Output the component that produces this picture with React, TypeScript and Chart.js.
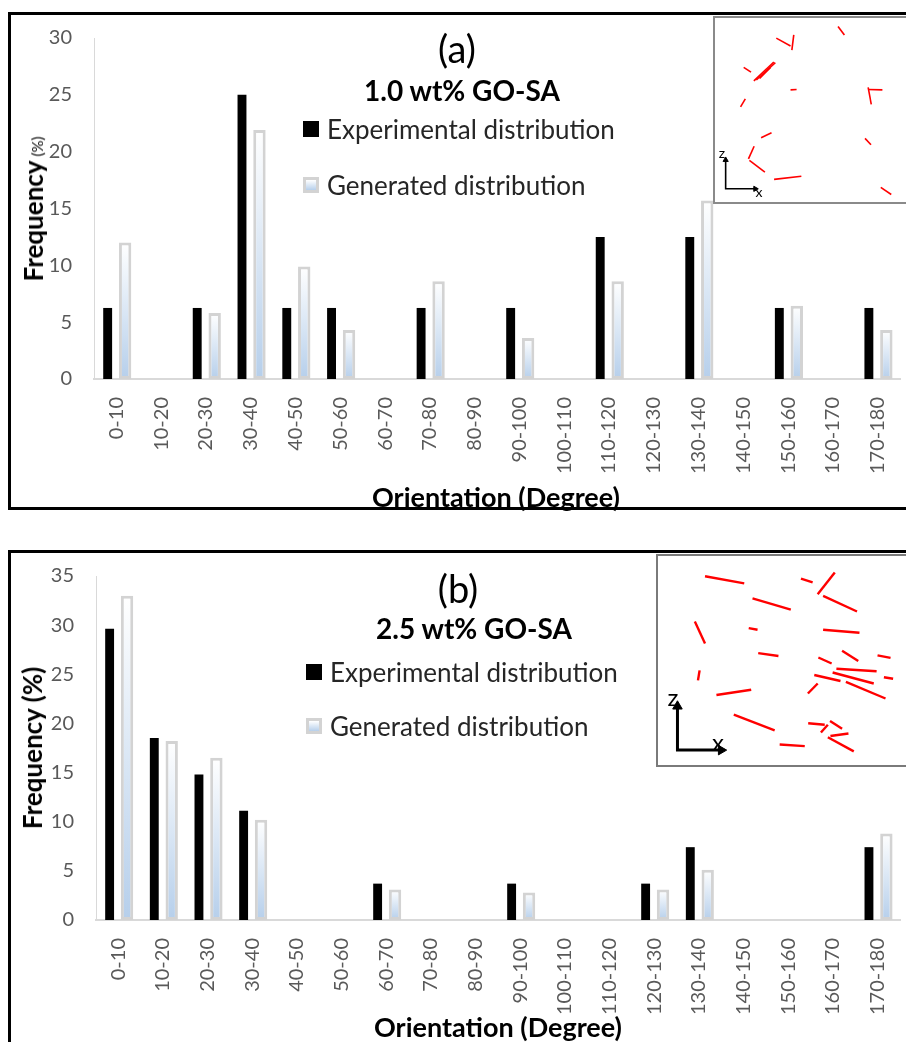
import React, { useEffect, useRef } from 'react';
import { Chart, registerables } from 'chart.js';

Chart.register(...registerables);

const FONT = 'Lato, "Open Sans", sans-serif';

// ---------- data ----------
const categories = [
  '0-10', '10-20', '20-30', '30-40', '40-50', '50-60', '60-70', '70-80', '80-90',
  '90-100', '100-110', '110-120', '120-130', '130-140', '140-150', '150-160', '160-170', '170-180',
];

// panel (a) 1.0 wt% GO-SA
const experimentalA = [6.25, 0, 6.25, 25, 6.25, 6.25, 0, 6.25, 0, 6.25, 0, 12.5, 0, 12.5, 0, 6.25, 0, 6.25];
const generatedA = [12.0, 0, 5.8, 21.9, 9.9, 4.3, 0, 8.6, 0, 3.6, 0, 8.6, 0, 15.7, 0, 6.45, 0, 4.3];

// panel (b) 2.5 wt% GO-SA
const experimentalB = [29.63, 18.52, 14.81, 11.11, 0, 0, 3.7, 0, 0, 3.7, 0, 0, 3.7, 7.41, 0, 0, 0, 7.41];
const generatedB = [33.0, 18.2, 16.5, 10.2, 0, 0, 3.1, 0, 0, 2.8, 0, 0, 3.1, 5.1, 0, 0, 0, 8.8];

const yMaxA = 30;
const yMaxB = 35;
const yStep = 5;

const seriesNames = ['Experimental distribution', 'Generated distribution'];

// inset maps: platelet segments [x1, z1, x2, z2] in inset units
const insetSegmentsA = [
  [125.3, 181.3, 132, 172.3],
  [60.3, 169, 75.3, 160.7],
  [78.7, 172.3, 76.7, 156.3],
  [26, 138, 33.7, 133],
  [36.7, 123.7, 57.7, 143.7],
  [39.3, 124.7, 59.3, 143],
  [42.7, 126.3, 54.3, 138],
  [75.3, 114.3, 81.7, 114.7],
  [22.7, 96.3, 27.7, 104.7],
  [157, 117, 160.3, 99],
  [157, 114.7, 172, 114.3],
  [44.3, 63.7, 55.3, 69],
  [153.7, 63, 160, 56.3],
  [37, 54.7, 31, 41.3],
  [32, 39.7, 48.3, 27.3],
  [58, 19.7, 86.7, 23],
  [170.3, 11.3, 181.3, 3.7],
];
const insetSegmentsB = [
  [43.7, 195.3, 85, 187.7],
  [144.7, 192.7, 157, 188.7],
  [180.3, 199.3, 162.3, 176],
  [93.7, 171.7, 134, 159.7],
  [168, 174.3, 203.7, 157.7],
  [33, 147, 43.7, 123.7],
  [89.7, 140, 99, 138.3],
  [168, 138.3, 206.3, 135],
  [99.7, 113.3, 121, 110.3],
  [188, 116, 205, 105],
  [225.3, 111, 239, 108.3],
  [163, 108.7, 177, 102.3],
  [182, 96.7, 224.3, 94],
  [178, 92.7, 221.3, 81],
  [158.7, 90, 186.3, 83.7],
  [232, 87.7, 241.7, 86],
  [192, 82.7, 233.7, 65],
  [162.3, 81, 152, 70.3],
  [38, 95, 36.3, 84.3],
  [55.7, 68.7, 92.3, 74.3],
  [74, 47.7, 117, 31],
  [152.3, 38.7, 169.7, 37],
  [175.3, 41, 188, 32.7],
  [173, 37, 165.7, 28.7],
  [175.7, 25, 194.7, 27.7],
  [173, 23.7, 200.3, 8.7],
  [122.3, 16, 148.7, 14.3],
];
// axis triad: origin, z tip, x tip
const triadA = [[7, 9.7], [7, 42], [40, 9.7]];
const triadB = [[14.7, 10], [14.7, 60], [64, 10]];

// ---------- components ----------
function FreqChart(props: {
  left: number; top: number; width: number; height: number;
  padTop: number; padRight: number; yWidth: number; xHeight: number;
  exp: number[]; gen: number[]; yMax: number;
}) {
  const ref = useRef<HTMLCanvasElement>(null);
  useEffect(() => {
    const canvas = ref.current!;
    const genFill = (c: any) => {
      const chart = c.chart;
      const area = chart.chartArea;
      if (!area || c.type !== 'data') return '#c5d9f1';
      const v = (c.parsed && c.parsed.y) ?? c.raw ?? 0;
      const ys = chart.scales.y;
      if (!ys) return '#c5d9f1';
      const t = ys.getPixelForValue(v);
      const b = ys.getPixelForValue(0);
      if (!(b > t + 1)) return '#c5d9f1';
      const g = chart.ctx.createLinearGradient(0, t, 0, b);
      g.addColorStop(0, '#ffffff');
      g.addColorStop(1, '#b6cfeb');
      return g;
    };
    const noPad = (s: any) => { s.paddingLeft = 0; s.paddingRight = 0; s.paddingTop = 0; s.paddingBottom = 0; };
    const chart = new Chart(canvas, {
      type: 'bar',
      data: {
        labels: categories,
        datasets: [
          {
            label: seriesNames[0], data: props.exp, backgroundColor: '#000000', borderWidth: 0,
            barPercentage: 0.51, categoryPercentage: 0.78,
          },
          {
            label: seriesNames[1], data: props.gen, backgroundColor: genFill, borderColor: '#d3d3d3',
            borderWidth: 3, borderSkipped: false, barPercentage: 0.71, categoryPercentage: 0.78,
          },
        ],
      },
      options: {
        responsive: false,
        animation: false,
        devicePixelRatio: 1,
        layout: { padding: { top: props.padTop, right: props.padRight, left: 0, bottom: 0 } },
        plugins: { legend: { display: false }, tooltip: { enabled: false }, title: { display: false } },
        scales: {
          x: {
            grid: { display: false, drawTicks: false },
            border: { display: true, color: '#d9d9d9', width: 2 },
            ticks: {
              color: '#595959', font: { family: FONT, size: 20 }, minRotation: 90, maxRotation: 90,
              padding: 18, autoSkip: false,
            },
            afterFit: (s: any) => { s.height = props.xHeight; noPad(s); },
          },
          y: {
            min: 0, max: props.yMax,
            grid: { display: false, drawTicks: false },
            border: { display: true, color: '#d9d9d9', width: 1 },
            ticks: { stepSize: yStep, color: '#595959', font: { family: FONT, size: 20 }, padding: 22 },
            afterFit: (s: any) => { s.width = props.yWidth; noPad(s); },
          },
        },
      },
    } as any);
    return () => chart.destroy();
  }, []);
  return (
    <canvas
      ref={ref}
      width={props.width}
      height={props.height}
      style={{ position: 'absolute', left: props.left, top: props.top, width: props.width, height: props.height }}
    />
  );
}

function InsetMap(props: {
  left: number; top: number; width: number; height: number;
  segments: number[][]; triad: number[][]; segWidth: number; axisWidth: number; headRadius: number;
}) {
  const ref = useRef<HTMLCanvasElement>(null);
  useEffect(() => {
    const canvas = ref.current!;
    const [o, zt, xt] = props.triad;
    const datasets: any[] = props.segments.map((s) => ({
      data: [{ x: s[0], y: s[1] }, { x: s[2], y: s[3] }],
      showLine: true, borderColor: '#ff0000', borderWidth: props.segWidth, pointRadius: 0,
      borderCapStyle: 'butt',
    }));
    datasets.push({
      data: [{ x: zt[0], y: zt[1] - props.headRadius }, { x: o[0], y: o[1] }, { x: xt[0] - props.headRadius, y: xt[1] }],
      showLine: true, borderColor: '#000000', borderWidth: props.axisWidth, pointRadius: 0,
      borderJoinStyle: 'miter',
    });
    datasets.push({
      data: [{ x: zt[0], y: zt[1] - props.headRadius * 0.6 }, { x: xt[0] - props.headRadius * 0.6, y: xt[1] }],
      showLine: false, pointStyle: 'triangle', pointRotation: [0, 90], pointRadius: props.headRadius,
      backgroundColor: '#000000', borderColor: '#000000', borderWidth: 1,
    });
    const chart = new Chart(canvas, {
      type: 'scatter',
      data: { datasets },
      options: {
        responsive: false,
        animation: false,
        devicePixelRatio: 1,
        layout: { padding: 0 },
        plugins: { legend: { display: false }, tooltip: { enabled: false } },
        scales: {
          x: { type: 'linear', display: false, min: 0, max: props.width },
          y: { type: 'linear', display: false, min: 0, max: props.height },
        },
      },
    } as any);
    return () => chart.destroy();
  }, []);
  return (
    <canvas
      ref={ref}
      width={props.width}
      height={props.height}
      style={{ position: 'absolute', left: props.left, top: props.top, width: props.width, height: props.height }}
    />
  );
}

const abs = (x: number, y: number, extra: React.CSSProperties = {}): React.CSSProperties => ({
  position: 'absolute', left: x, top: y, transform: 'translate(-50%, -50%)', whiteSpace: 'nowrap',
  lineHeight: 1, fontFamily: FONT, ...extra,
});

function Legend(props: { x: number; y1: number; y2: number }) {
  const text: React.CSSProperties = {
    position: 'absolute', left: props.x + 24, transform: 'translateY(-50%)', whiteSpace: 'nowrap',
    lineHeight: 1, fontFamily: FONT, fontSize: 26, color: '#262626',
  };
  return (
    <>
      <div style={{ position: 'absolute', left: props.x, top: props.y1 - 8, width: 16, height: 16, background: '#000' }} />
      <div style={{ ...text, top: props.y1 }}>{seriesNames[0]}</div>
      <div
        style={{
          position: 'absolute', left: props.x, top: props.y2 - 8, width: 16, height: 16, boxSizing: 'border-box',
          border: '3px solid #d3d3d3', background: 'linear-gradient(#ffffff, #b6cfeb)',
        }}
      />
      <div style={{ ...text, top: props.y2 }}>{seriesNames[1]}</div>
    </>
  );
}

export default function App() {
  return (
    <div style={{ position: 'absolute', left: 0, top: 0, width: 906, height: 1042, overflow: 'hidden', background: '#fff' }}>
      {/* panel (a) */}
      <div style={{ position: 'absolute', left: 8, top: 12, width: 930, height: 498, border: '3px solid #000', boxSizing: 'border-box' }} />
      <FreqChart left={11} top={15} width={895} height={490} padTop={23} padRight={6} yWidth={83} xHeight={126}
        exp={experimentalA} gen={generatedA} yMax={yMaxA} />
      <div style={abs(457, 48, { fontSize: 38, color: '#000' })}>(a)</div>
      <div style={abs(462, 90, { fontSize: 28, fontWeight: 700, color: '#000' })}>1.0 wt% GO-SA</div>
      <Legend x={303} y1={129} y2={185} />
      <div style={abs(496, 496, { fontSize: 27, fontWeight: 700, color: '#000' })}>Orientation (Degree)</div>
      <div style={abs(33, 209, { transform: 'translate(-50%, -50%) rotate(-90deg)', color: '#000' })}>
        <span style={{ fontSize: 26, fontWeight: 700 }}>Frequency</span>
        <span style={{ fontSize: 15 }}> (%)</span>
      </div>
      <div style={{ position: 'absolute', left: 713, top: 16, width: 220, height: 188, boxSizing: 'border-box', border: '2px solid #8a8a8a', background: '#fff' }} />
      <InsetMap left={714} top={17} width={200} height={186} segments={insetSegmentsA} triad={triadA}
        segWidth={1.6} axisWidth={1.6} headRadius={3} />
      <div style={abs(722, 153, { fontSize: 14, color: '#000' })}>z</div>
      <div style={abs(759, 192, { fontSize: 14, color: '#000' })}>x</div>

      {/* panel (b) */}
      <div style={{ position: 'absolute', left: 8, top: 550, width: 930, height: 520, border: '3px solid #000', boxSizing: 'border-box' }} />
      <FreqChart left={11} top={553} width={895} height={489} padTop={23} padRight={6} yWidth={85} xHeight={122}
        exp={experimentalB} gen={generatedB} yMax={yMaxB} />
      <div style={abs(458, 588, { fontSize: 38, color: '#000' })}>(b)</div>
      <div style={abs(474, 628, { fontSize: 28, fontWeight: 700, color: '#000' })}>2.5 wt% GO-SA</div>
      <Legend x={306} y1={672} y2={726} />
      <div style={abs(498, 1026, { fontSize: 27, fontWeight: 700, color: '#000' })}>Orientation (Degree)</div>
      <div style={abs(32, 748, { transform: 'translate(-50%, -50%) rotate(-90deg)', fontSize: 26, fontWeight: 700, color: '#000' })}>
        Frequency (%)
      </div>
      <div style={{ position: 'absolute', left: 656, top: 554, width: 270, height: 213, boxSizing: 'border-box', border: '2px solid #7a7a7a', background: '#fff' }} />
      <InsetMap left={657} top={555} width={260} height={211} segments={insetSegmentsB} triad={triadB}
        segWidth={2.4} axisWidth={3} headRadius={5.5} />
      <div style={abs(673, 697, { fontSize: 24, color: '#000' })}>z</div>
      <div style={abs(718, 742, { fontSize: 24, color: '#000' })}>x</div>
    </div>
  );
}
